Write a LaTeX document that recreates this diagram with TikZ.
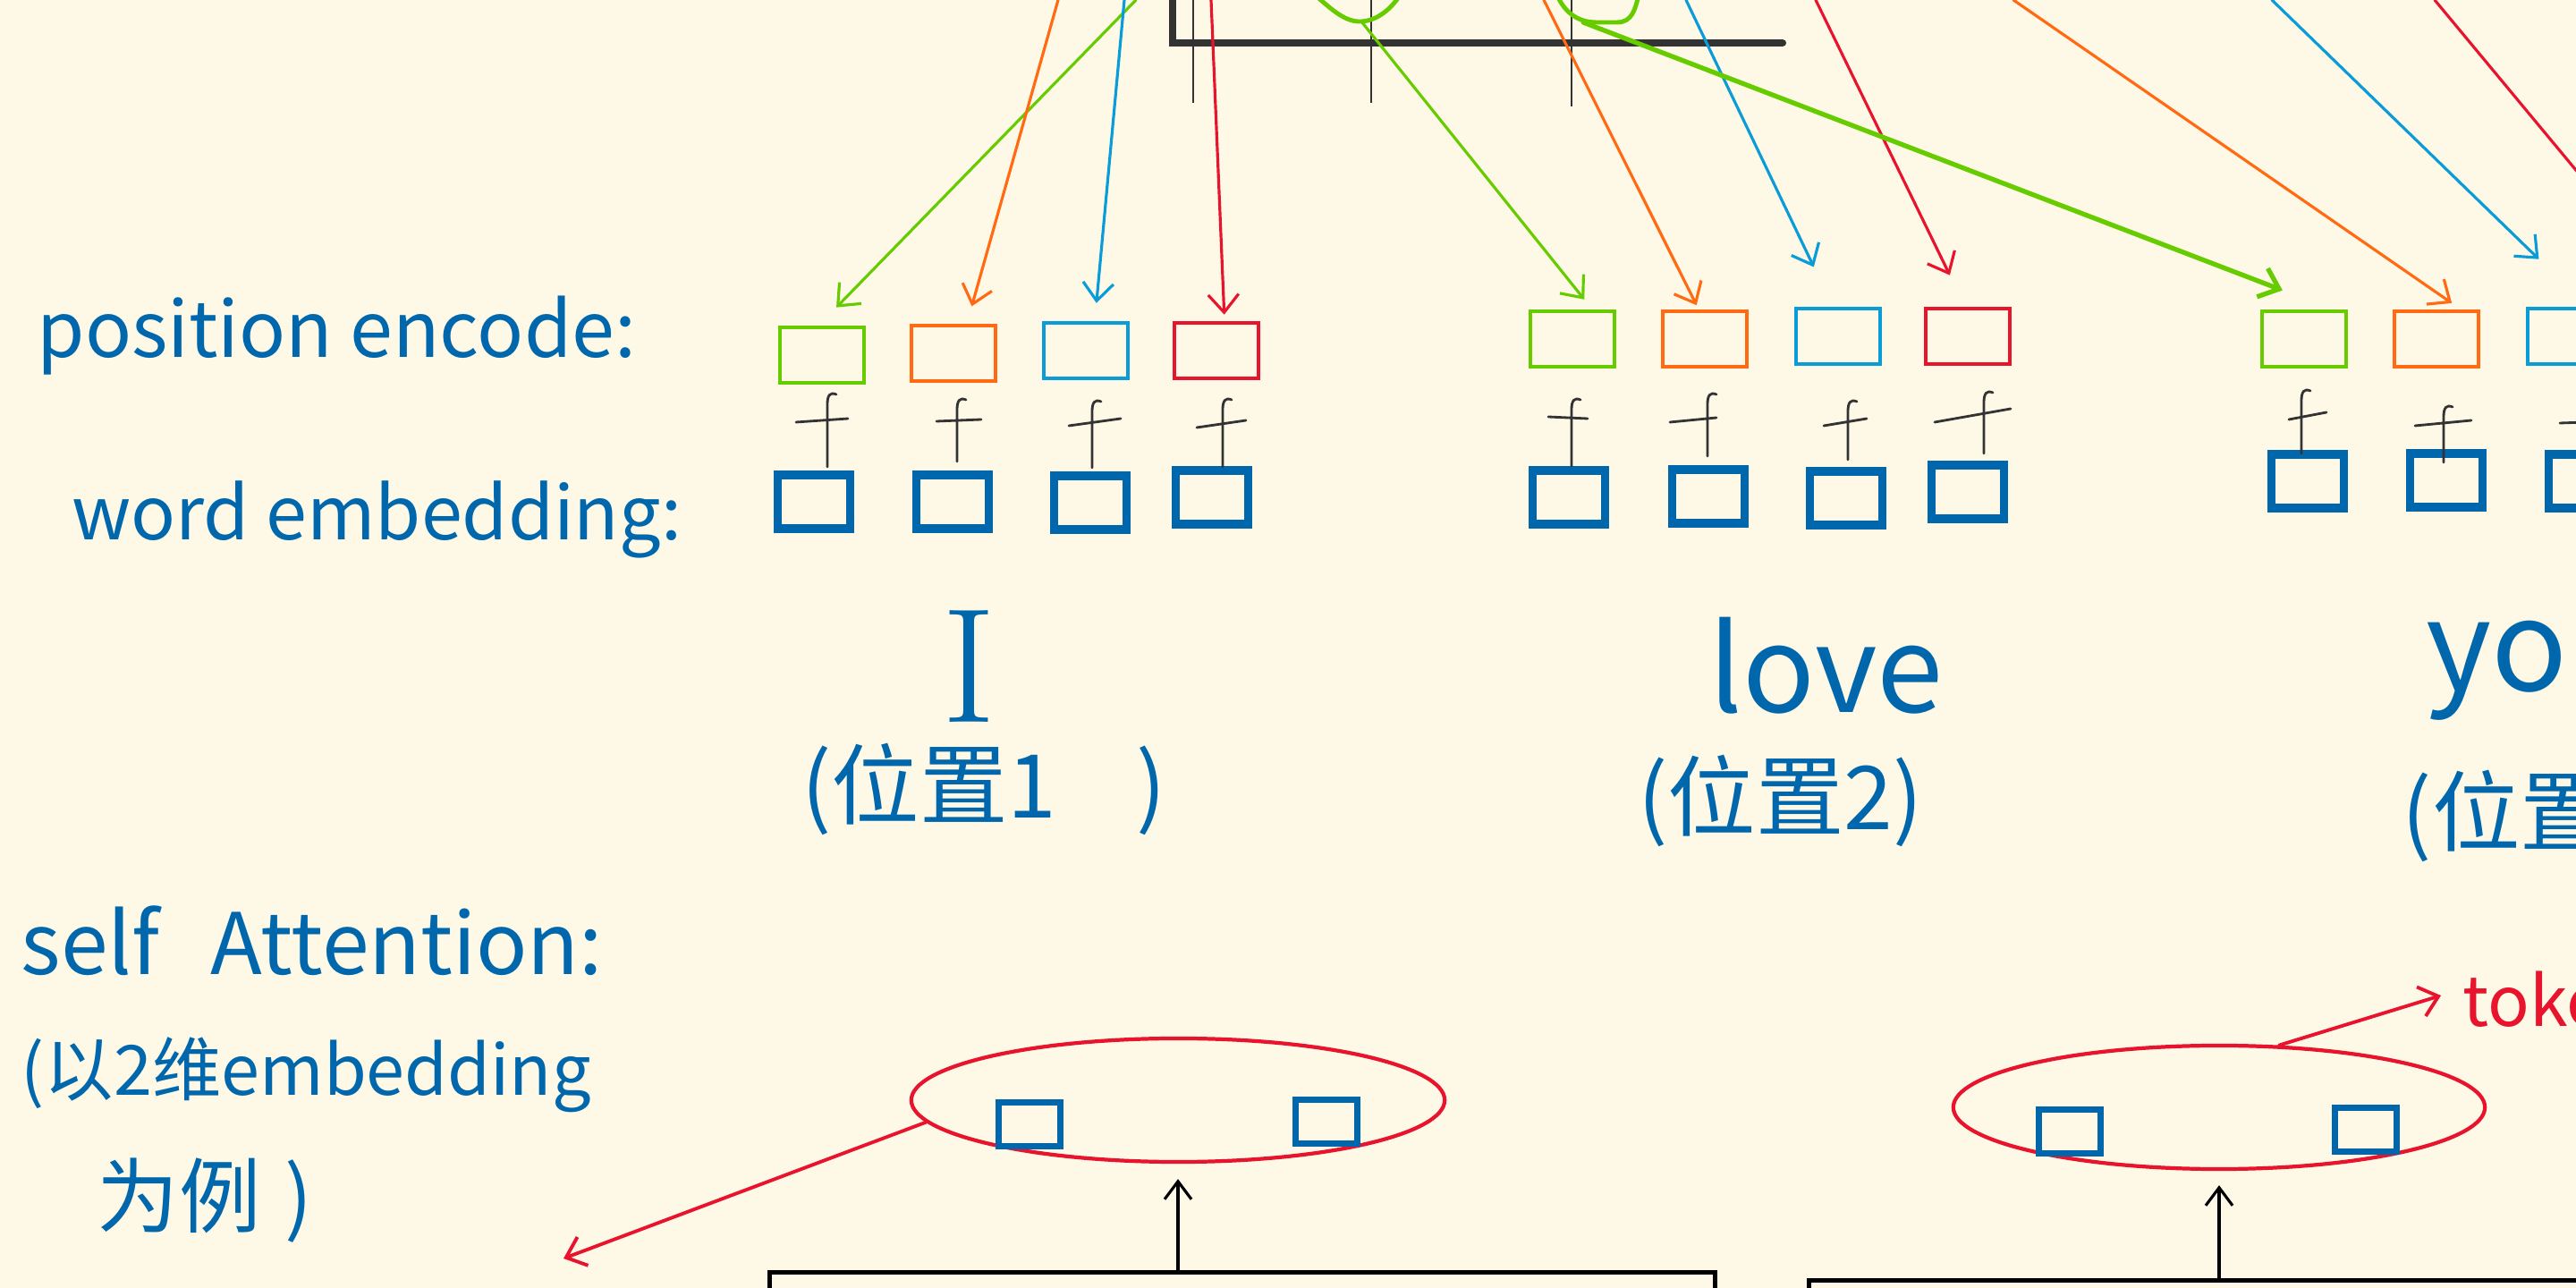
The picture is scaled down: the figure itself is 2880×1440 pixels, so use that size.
\documentclass[tikz,border=0pt]{standalone}
\usepackage{xcolor}
\usepackage{fontspec}
\newfontfamily\handfont{Noto Sans CJK SC}
\usetikzlibrary{arrows.meta,shapes.geometric}

\definecolor{paper}{HTML}{FEF9E7}
\definecolor{ink}{HTML}{0067AC}
\definecolor{pgreen}{HTML}{66CC00}
\definecolor{porange}{HTML}{FF6A13}
\definecolor{pblue}{HTML}{0A9CD9}
\definecolor{pred}{HTML}{E8142D}
\definecolor{pencil}{HTML}{333333}

\tikzset{
    posbox/.style={draw=#1, line width=1.3pt, minimum width=0.94cm, minimum height=0.62cm, inner sep=0pt},
    wordbox/.style={draw=ink, line width=2.6pt, minimum width=0.81cm, minimum height=0.6cm, inner sep=0pt},
    dotbox/.style={draw=ink, line width=2pt, minimum width=0.69cm, minimum height=0.49cm, inner sep=0pt},
    feed/.style={draw=#1, line width=0.9pt, line cap=round, -{Straight Barb[length=2mm,width=3.4mm]}},
    hand/.style={text=ink, inner sep=0pt, anchor=base west, font=\handfont\fontsize{#1}{#1}\selectfont},
}

\begin{document}
\begin{tikzpicture}[x=0.01cm, y=-0.01cm]
    \path[use as bounding box, fill=paper] (0,0) rectangle (2880,1440);
    \clip (0,0) rectangle (2880,1440);

    % axis of the sine plot
    \draw[pencil, line width=2.3pt, line cap=round] (1311,-10) -- (1311,48) -- (1993,48);
    \draw[pencil, line width=0.7pt] (1334,-5) -- (1334,115);
    \draw[pencil, line width=0.7pt] (1533,-5) -- (1533,115);
    \draw[pencil, line width=0.7pt] (1757,-5) -- (1757,119);
    \draw[pgreen, line width=1.4pt, line cap=round] (1471,-5) .. controls (1490,12) and (1505,25) .. (1522,24) .. controls (1540,23) and (1555,10) .. (1565,-5);
    \draw[pgreen, line width=1.4pt, line cap=round] (1741,-5) .. controls (1750,15) and (1765,25) .. (1785,25) -- (1808,25) .. controls (1825,25) and (1828,10) .. (1832,-5);

    \coordinate (gA) at (1522,24);
    \coordinate (gB) at (1770,25);
    \coordinate (sGI) at (1270,0);
    \coordinate (sOI) at (1183,0);
    \coordinate (sBI) at (1257,0);
    \coordinate (sRI) at (1354,0);
    \coordinate (sOL) at (1726,0);
    \coordinate (sBL) at (1885,0);
    \coordinate (sRL) at (2030,0);
    \coordinate (sOY) at (2251,0);
    \coordinate (sBY) at (2540,0);
    \coordinate (sRY) at (2722,0);
    \coordinate (eRY) at (2996,330);

    % position encode boxes
    \node[posbox=pgreen] (gI) at (919,397) {};
    \node[posbox=porange] (oI) at (1066,395) {};
    \node[posbox=pblue] (bI) at (1214,392) {};
    \node[posbox=pred] (rI) at (1360,392) {};
    \node[posbox=pgreen] (gL) at (1758,379) {};
    \node[posbox=porange] (oL) at (1906,379) {};
    \node[posbox=pblue] (bL) at (2055,376) {};
    \node[posbox=pred] (rL) at (2200,376) {};
    \node[posbox=pgreen] (gY) at (2576,379) {};
    \node[posbox=porange] (oY) at (2724,379) {};
    \node[posbox=pblue] (bY) at (2873,376) {};

    % word embedding boxes
    \node[wordbox] (eI1) at (910,561) {};
    \node[wordbox] (eI2) at (1065,561) {};
    \node[wordbox] (eI3) at (1219,562) {};
    \node[wordbox] (eI4) at (1355,556) {};
    \node[wordbox] (eL1) at (1754,556) {};
    \node[wordbox] (eL2) at (1910,555) {};
    \node[wordbox] (eL3) at (2064,557) {};
    \node[wordbox] (eL4) at (2200,550) {};
    \node[wordbox] (eY1) at (2580,538) {};
    \node[wordbox] (eY2) at (2735,537) {};
    \node[wordbox] (eY3) at (2890,538) {};

    % plus signs
    \foreach \xv/\yt/\yb/\xl/\yl/\xr/\yr in {925/444/522/890/472/948/468, 1070/450/516/1047/471/1097/469,
        1221/452/523/1195/476/1253/468, 1367/450/522/1338/478/1393/470, 1757/450/521/1731/466/1775/468,
        1909/444/510/1867/472/1919/467, 2066/452/514/2039/476/2087/468, 2218/442/507/2163/472/2248/457,
        2573/440/507/2559/469/2601/461, 2732/458/517/2700/476/2763/470, 2897/455/520/2862/473/2920/471}
        \draw[pencil, line width=0.8pt, line cap=round] (\xv+10,\yt-3) .. controls (\xv+3,\yt-6) and (\xv,\yt-2) .. (\xv,\yt+8) -- (\xv,\yb) (\xl,\yl) -- (\xr,\yr);

    % sine values into the position boxes
    \draw[feed=pgreen, shorten >=0.28cm] (sGI) -- ([xshift=-0.035cm]gI.north);
    \draw[feed=porange, shorten >=0.2cm] (sOI) -- ([xshift=0.15cm]oI.north);
    \draw[feed=pblue, shorten >=0.2cm] (sBI) -- ([xshift=0.1cm]bI.north);
    \draw[feed=pred, shorten >=0.07cm] (sRI) -- ([xshift=0.09cm]rI.north);
    \draw[feed=pgreen, shorten >=0.14cm] (gA) -- ([xshift=0.22cm]gL.north);
    \draw[feed=porange, shorten >=0.05cm] (sOL) -- ([xshift=-0.07cm]oL.north);
    \draw[feed=pblue, shorten >=0.49cm] (sBL) -- ([xshift=-0.06cm]bL.north);
    \draw[feed=pred, shorten >=0.39cm] (sRL) -- ([xshift=-0.03cm]rL.north);
    \draw[feed=pgreen, line width=1.5pt, shorten >=0.59cm] (gB) -- ([xshift=0.31cm]gY.north);
    \draw[feed=porange, shorten >=0.12cm] (sOY) -- ([xshift=0.27cm]oY.north);
    \draw[feed=pblue, shorten >=0.76cm] (sBY) -- ([xshift=0.2cm]bY.north);
    \draw[feed=pred] (sRY) -- (eRY);

    % labels
    \node[hand=24.5] (lblPos) at (41,400) {position encode:};
    \node[hand=23.5] (lblWord) at (80,604) {word embedding:};
    \node[text=ink, font=\fontsize{52}{52}\selectfont, inner sep=0pt, anchor=base] (wI) at (1083,808) {I};
    \node[hand=28] (wIpos) at (896,915) {(位置1\hspace{0.9em})};
    \node[hand=38] (wLove) at (1910,797) {love};
    \node[hand=28] (wLovePos) at (1831,928) {(位置2)};
    \node[hand=40] (wYou) at (2712,773) {you};
    \node[hand=28] (wYouPos) at (2685,945) {(位置3)};
    \node[hand=27] (lblSelf) at (23,1090) {self\hspace{0.6em}Attention:};
    \node[hand=22] (lblSelfA) at (23,1225) {(以2维embedding};
    \node[hand=26] (lblSelfB) at (108,1372) {为例\hspace{0.3em})};

    % self attention tokens
    \node[ellipse, draw=pred, line width=1.2pt, minimum width=5.96cm, minimum height=1.38cm, inner sep=0pt] (ellL) at (1317,1230) {};
    \node[ellipse, draw=pred, line width=1.2pt, minimum width=5.94cm, minimum height=1.38cm, inner sep=0pt] (ellR) at (2481,1238) {};
    \node[dotbox] (tL1) at (1151,1257) {};
    \node[dotbox] (tL2) at (1483,1254) {};
    \node[dotbox] (tR1) at (2314,1265) {};
    \node[dotbox] (tR2) at (2645,1263) {};
    \node[draw=black, line width=1.4pt, minimum width=10.56cm, minimum height=2cm, anchor=north west, inner sep=0pt] (boxL) at (858,1420) {};
    \node[draw=black, line width=1.4pt, minimum width=10cm, minimum height=2cm, anchor=north west, inner sep=0pt] (boxR) at (2020,1429) {};
    \draw[black, line width=0.9pt, shorten >=0.17cm, -{Straight Barb[length=2mm,width=3mm]}] (ellL.south |- boxL.north) -- (ellL.south);
    \draw[black, line width=0.9pt, shorten >=0.16cm, -{Straight Barb[length=2mm,width=3mm]}] (ellR.south |- boxR.north) -- (ellR.south);

    \coordinate (tipL) at (630,1407);
    \coordinate (tipTok) at (2729,1113);
    \draw[feed=pred, line width=1.1pt] (ellL.185) -- (tipL);
    \draw[feed=pred, line width=1.1pt] (ellR.46) -- (tipTok);
    \node[hand=22, text=pred] (lblToken) at (2753,1148) {token};
\end{tikzpicture}
\end{document}
